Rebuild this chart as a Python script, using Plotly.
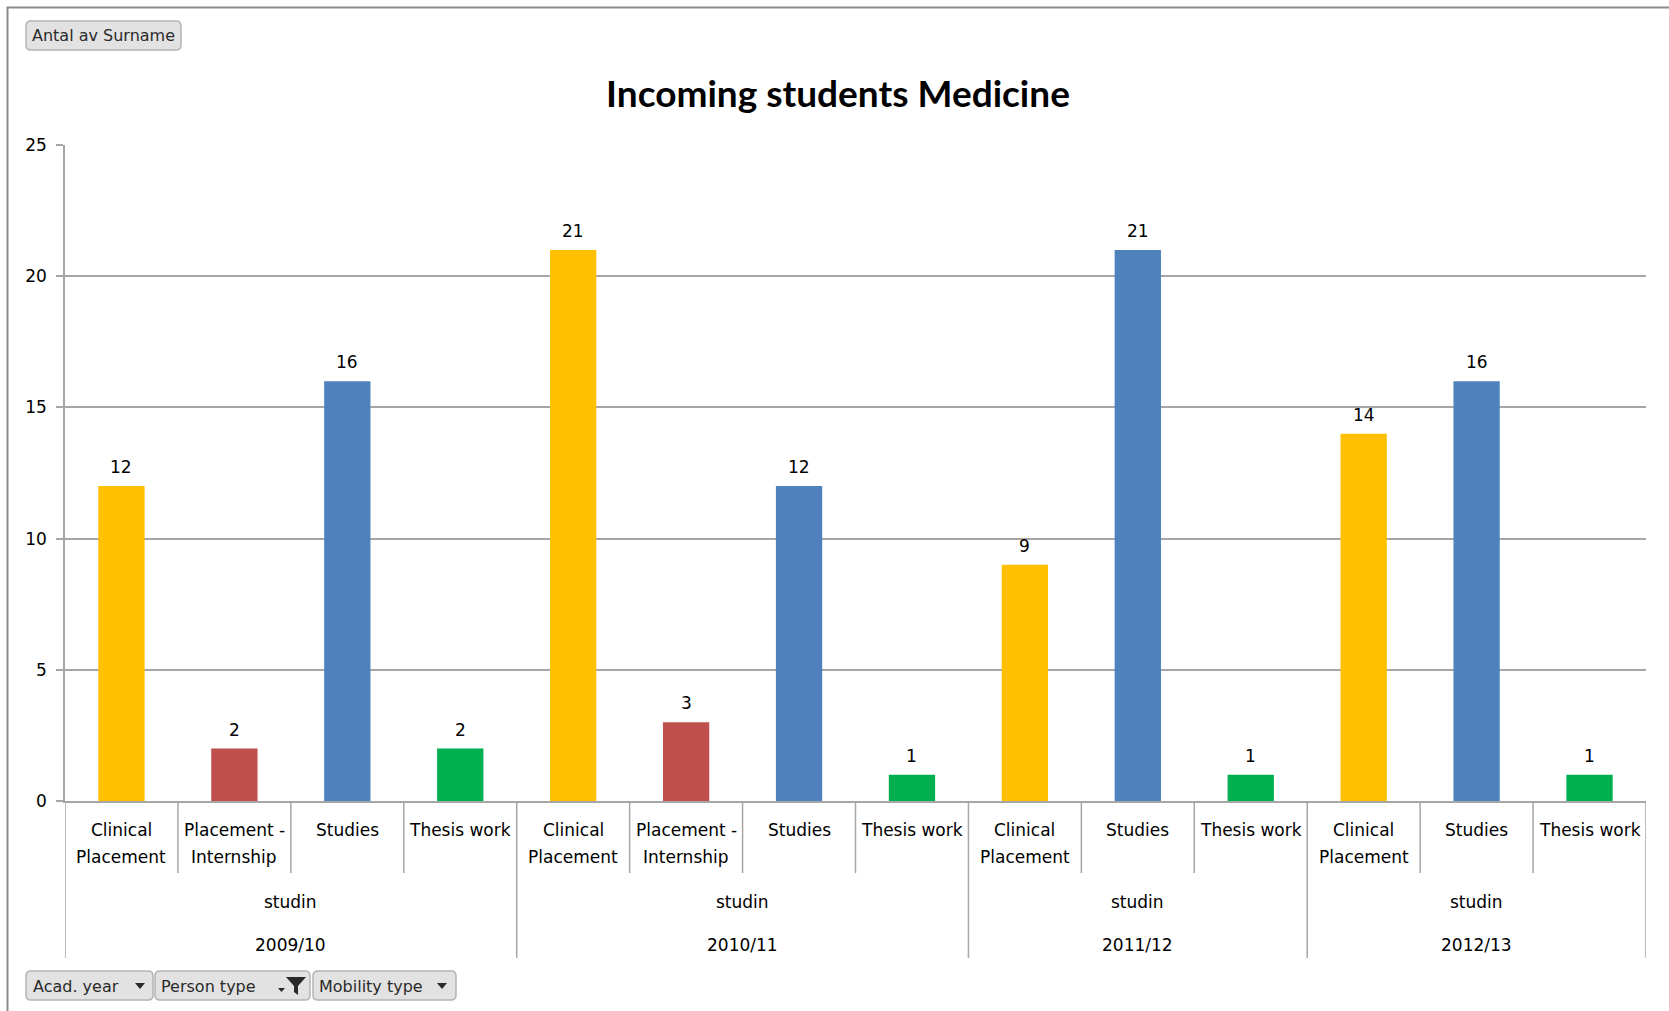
import plotly.graph_objects as go

# ---------------- data ----------------
years = ["2009/10", "2010/11", "2011/12", "2012/13"]
person_type = "studin"
mobility_2009 = ["Clinical Placement", "Placement - Internship", "Studies", "Thesis work"]
counts_2009 = [12, 2, 16, 2]
mobility_2010 = ["Clinical Placement", "Placement - Internship", "Studies", "Thesis work"]
counts_2010 = [21, 3, 12, 1]
mobility_2011 = ["Clinical Placement", "Studies", "Thesis work"]
counts_2011 = [9, 21, 1]
mobility_2012 = ["Clinical Placement", "Studies", "Thesis work"]
counts_2012 = [14, 16, 1]
y_ticks = [0, 5, 10, 15, 20, 25]

title_text = "Incoming students Medicine"
field_button = "Antal av Surname"
filter_buttons = ["Acad. year", "Person type", "Mobility type"]

# ---------------- styles ----------------
colors = {
    "Clinical Placement": "#FFC000",
    "Placement - Internship": "#C0504D",
    "Studies": "#4F81BD",
    "Thesis work": "#00B050",
}
label_lines = {
    "Clinical Placement": ["Clinical", "Placement"],
    "Placement - Internship": ["Placement -", "Internship"],
    "Studies": ["Studies"],
    "Thesis work": ["Thesis work"],
}
FONT = "DejaVu Sans"
GRID = "#a6a6a6"

W, H = 1669, 1011
L, R, T, B = 65, 1646, 145, 801


def px_x(p):
    return (p - L) / (R - L)


def px_y(p):
    return (B - p) / (B - T)


groups = [
    (years[0], mobility_2009, counts_2009),
    (years[1], mobility_2010, counts_2010),
    (years[2], mobility_2011, counts_2011),
    (years[3], mobility_2012, counts_2012),
]

xs, ys, cats, cols = [], [], [], []
group_spans = []
i = 0
for yr, mob, cnt in groups:
    start = i
    for m, c in zip(mob, cnt):
        xs.append(i)
        ys.append(c)
        cats.append(m)
        cols.append(colors[m])
        i += 1
    group_spans.append((yr, start, i - 1))
n = len(xs)

fig = go.Figure()
fig.add_trace(go.Bar(x=xs, y=ys, marker=dict(color=cols, line=dict(width=0)),
                     width=0.41, showlegend=False, hoverinfo="y"))

annotations = []
shapes = []

# data labels
for x, v in zip(xs, ys):
    annotations.append(dict(x=x, y=v, xref="x", yref="y", text=str(v), showarrow=False,
                            xanchor="center", yanchor="bottom", yshift=7,
                            font=dict(family=FONT, size=17, color="#000")))

# category labels
for x, c in zip(xs, cats):
    for k, line in enumerate(label_lines[c]):
        annotations.append(dict(x=x, y=px_y(830 + 27 * k), xref="x", yref="paper", text=line,
                                showarrow=False, xanchor="center", yanchor="middle",
                                font=dict(family=FONT, size=17, color="#000")))

# group labels
year_bounds = set()
for yr, s, e in group_spans:
    cx = (s + e) / 2
    annotations.append(dict(x=cx, y=px_y(902), xref="x", yref="paper", text=person_type,
                            showarrow=False, xanchor="center", yanchor="middle",
                            font=dict(family=FONT, size=17, color="#000")))
    annotations.append(dict(x=cx, y=px_y(945), xref="x", yref="paper", text=yr,
                            showarrow=False, xanchor="center", yanchor="middle",
                            font=dict(family=FONT, size=17, color="#000")))
    year_bounds.add(s - 0.5)
    year_bounds.add(e + 0.5)

# separators below axis
for k in range(n + 1):
    bx = k - 0.5
    bottom = 958 if bx in year_bounds else 873
    shapes.append(dict(type="line", xref="x", yref="paper", x0=bx, x1=bx,
                       y0=0, y1=px_y(bottom), line=dict(color=GRID, width=1.5)))

# outer frame
shapes.append(dict(type="rect", xref="paper", yref="paper",
                   x0=px_x(7.5), x1=px_x(W + 20), y0=px_y(7.5), y1=px_y(H + 20),
                   line=dict(color="#8c8c8c", width=2), fillcolor="rgba(0,0,0,0)", layer="below"))


def rounded(x0, y0, x1, y1, r=5):
    pts = [
        ("M", x0 + r, y0), ("L", x1 - r, y0), ("Q", x1, y0, x1, y0 + r),
        ("L", x1, y1 - r), ("Q", x1, y1, x1 - r, y1), ("L", x0 + r, y1),
        ("Q", x0, y1, x0, y1 - r), ("L", x0, y0 + r), ("Q", x0, y0, x0 + r, y0),
    ]
    s = ""
    for p in pts:
        if p[0] == "Q":
            s += "Q %f,%f %f,%f " % (px_x(p[1]), px_y(p[2]), px_x(p[3]), px_y(p[4]))
        else:
            s += "%s %f,%f " % (p[0], px_x(p[1]), px_y(p[2]))
    return s + "Z"


def poly(points):
    s = "M " + " L ".join("%f,%f" % (px_x(a), px_y(b)) for a, b in points)
    return s + " Z"


btn_style = dict(type="path", xref="paper", yref="paper", fillcolor="#e2e2e2",
                 line=dict(color="#b4b4b4", width=1.5))

# field button (top left)
shapes.append(dict(path=rounded(26, 21, 181, 50), **btn_style))
annotations.append(dict(x=px_x(103.5), y=px_y(36), xref="paper", yref="paper", text=field_button,
                        showarrow=False, xanchor="center", yanchor="middle",
                        font=dict(family=FONT, size=16, color="#2a2a2a")))

# filter buttons (bottom)
btn_boxes = [(26, 153), (155, 310), (313, 456)]
text_left = [31, 159, 317]
for (bx0, bx1), tl, label in zip(btn_boxes, text_left, filter_buttons):
    shapes.append(dict(path=rounded(bx0, 971, bx1, 1000), **btn_style))
    annotations.append(dict(x=px_x(tl), y=px_y(986), xref="paper", yref="paper", text=label,
                            xanchor="left", yanchor="middle", showarrow=False,
                            font=dict(family=FONT, size=16, color="#2a2a2a")))

# dropdown arrows
for ax in (140, 442):
    shapes.append(dict(type="path", xref="paper", yref="paper",
                       path=poly([(ax - 5, 983), (ax + 5, 983), (ax, 989)]),
                       fillcolor="#2a2a2a", line=dict(width=0)))
# filter icon (small arrow + funnel)
shapes.append(dict(type="path", xref="paper", yref="paper",
                   path=poly([(278, 988), (285, 988), (281.5, 992)]),
                   fillcolor="#2a2a2a", line=dict(width=0)))
shapes.append(dict(type="path", xref="paper", yref="paper",
                   path=poly([(286, 977), (306, 977), (298, 986), (298, 995), (294, 992), (294, 986)]),
                   fillcolor="#2a2a2a", line=dict(width=0)))

fig.update_layout(
    width=W, height=H,
    margin=dict(l=L, r=W - R, t=T, b=H - B, pad=0),
    paper_bgcolor="white", plot_bgcolor="white",
    title=dict(text=title_text, x=838 / W, xanchor="center", xref="container",
               y=1 - 94 / H, yanchor="middle", yref="container",
               font=dict(family="Lato", size=37, color="#000", weight="bold")),
    xaxis=dict(range=[-0.5, n - 0.5], showticklabels=False, showgrid=False, zeroline=False,
               showline=True, linecolor=GRID, linewidth=1.5, fixedrange=True),
    yaxis=dict(range=[0, 25], tickvals=y_ticks, showgrid=True, gridcolor=GRID, gridwidth=1.5,
               zeroline=False, showline=True, linecolor=GRID, linewidth=1.5,
               ticks="outside", ticklen=7, tickcolor=GRID, tickwidth=1.5,
               ticklabelstandoff=6,
               tickfont=dict(family=FONT, size=17, color="#000"), fixedrange=True),
    annotations=annotations,
    shapes=shapes,
    bargap=0.59,
)

fig.write_html("out.html", config={"displayModeBar": False},
               post_script="document.body.style.margin='0';document.body.style.overflow='hidden';")
